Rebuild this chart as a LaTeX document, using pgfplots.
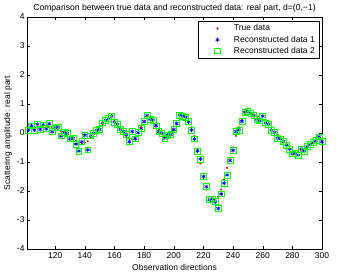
\documentclass[border=0pt]{standalone}
\usepackage{fontspec}
\setmainfont{Liberation Sans}
\usepackage{pgfplots}
\pgfplotsset{compat=1.18}
\usepackage{pgfplotstable}
\pgfplotstableread{
x t r
102 0.12 0.10
104 0.15 0.25
106 0.15 0.10
108 0.17 0.30
110 0.20 0.12
112 0.20 0.28
114 0.20 0.15
116 0.20 0.32
118 0.18 0.05
120 0.15 0.18
122 0.12 0.20
124 0.05 -0.10
126 0.00 0.02
128 -0.05 -0.02
130 -0.12 -0.20
132 -0.20 -0.18
134 -0.28 -0.38
136 -0.33 -0.62
138 -0.35 -0.30
140 -0.33 -0.08
142 -0.28 -0.58
144 -0.15 -0.10
146 -0.05 0.00
148 0.05 0.10
150 0.15 0.12
152 0.30 0.35
154 0.42 0.45
156 0.50 0.50
158 0.52 0.58
160 0.45 0.38
162 0.32 0.30
164 0.15 0.12
166 0.02 0.05
168 -0.10 -0.05
170 -0.20 -0.30
172 -0.22 0.05
174 -0.15 -0.20
176 0.00 0.02
178 0.20 0.15
180 0.38 0.40
182 0.50 0.60
184 0.50 0.48
186 0.42 0.45
188 0.28 0.25
190 0.10 0.05
192 -0.03 0.00
194 -0.12 -0.18
196 -0.12 -0.08
198 -0.05 -0.05
200 0.10 0.12
202 0.30 0.33
204 0.50 0.62
206 0.60 0.58
208 0.55 0.55
210 0.40 0.39
212 0.20 0.10
214 -0.10 -0.20
216 -0.55 -0.62
218 -1.05 -0.90
220 -1.55 -1.50
222 -1.95 -1.85
224 -2.20 -2.30
226 -2.30 -2.27
228 -2.30 -2.37
230 -2.20 -2.60
232 -1.95 -2.10
234 -1.60 -1.73
236 -1.20 -1.45
238 -0.85 -0.95
240 -0.50 -0.60
242 -0.10 0.05
244 0.20 0.10
246 0.45 0.40
248 0.62 0.72
250 0.70 0.75
252 0.70 0.68
254 0.65 0.60
256 0.55 0.47
258 0.48 0.42
260 0.45 0.58
262 0.45 0.35
264 0.35 0.30
266 0.20 0.10
268 0.05 0.02
270 -0.05 -0.18
272 -0.15 -0.20
274 -0.25 -0.30
276 -0.35 -0.42
278 -0.45 -0.55
280 -0.55 -0.72
282 -0.62 -0.70
284 -0.65 -0.76
286 -0.62 -0.55
288 -0.55 -0.62
290 -0.48 -0.47
292 -0.40 -0.38
294 -0.35 -0.32
296 -0.30 -0.25
298 -0.22 -0.13
300 -0.25 -0.30
}\datatable
\newcommand{\ff}{\fontsize{8.5bp}{10bp}\selectfont}
\begin{document}
\begin{tikzpicture}
\begin{axis}[
  scale only axis,
  width=295bp, height=232bp,
  xmin=101, xmax=300, ymin=-4, ymax=4,
  xtick={120,140,...,300}, ytick={-4,-3,...,4},
  tick align=inside, tick pos=both,
  major tick length=3bp,
  axis line style={line width=0.5pt},
  tick style={line width=0.4pt, black},
  every tick label/.append style={font=\ff},
  yticklabel style={xshift=1bp},
  /pgf/number format/assume math mode=true,
  every axis title shift=0pt,
  title={Comparison between true data and reconstructed data: real part, d=(0,\textminus1)},
  title style={font=\fontsize{8.6bp}{10bp}\selectfont, at={(axis description cs:0.5,1.0365)}, anchor=center},
  xlabel={Observation directions},
  ylabel={Scattering amplitude: real part},
  xlabel style={font=\ff, at={(axis description cs:0.5,-0.0776)}, anchor=center},
  ylabel style={font=\ff, at={(axis description cs:-0.0644,0.5)}, anchor=center},
  legend style={at={(axis description cs:1,1)}, anchor=north east, xshift=-3bp, yshift=-4bp, font=\ff, draw=black, line width=0.5pt, inner xsep=2bp, inner ysep=1.5bp, row sep=-0.5bp, cells={anchor=west}},
  legend cell align=left,
  legend image code/.code={\draw[#1,only marks] plot coordinates {(0.6cm,0cm)}; \path (0cm,0cm) (1.1cm,0cm);},
]
\addplot[only marks, mark=*, mark size=0.8pt, color=red] table[x=x, y=t] {\datatable};
\addlegendentry{True data}
\addplot[only marks, mark=asterisk, mark size=2.1bp, color=blue, mark options={line width=0.7pt}] table[x=x, y=r] {\datatable};
\addlegendentry{Reconstructed data 1}
\addplot[only marks, mark=square, mark size=2.9bp, color=green, mark options={line width=0.7pt}] table[x=x, y=r] {\datatable};
\addlegendentry{Reconstructed data 2}
\end{axis}
\pgfresetboundingbox
\useasboundingbox (-27bp,-26bp) rectangle (319bp,249bp);
\end{tikzpicture}
\end{document}
